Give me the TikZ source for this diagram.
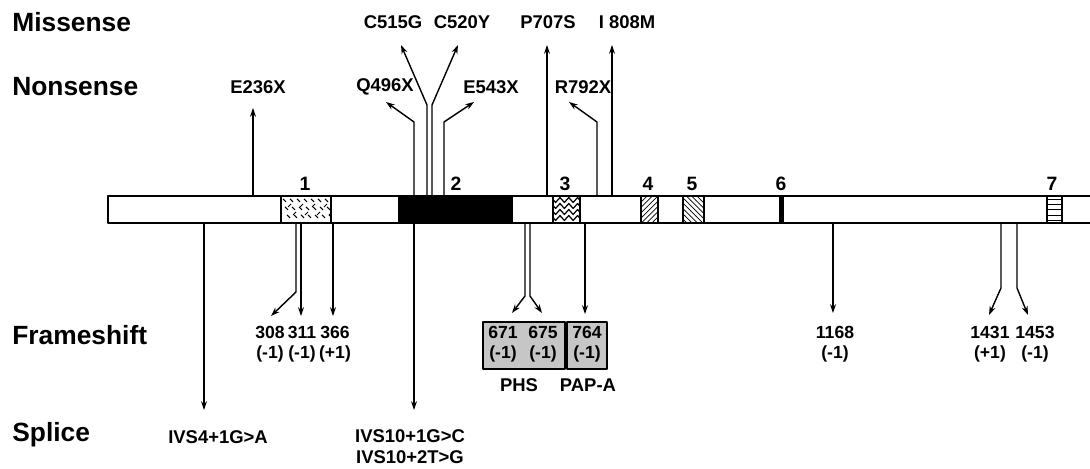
\documentclass[tikz,border=0pt]{standalone}
\usepackage{fontspec}
\setmainfont{Liberation Sans}
\usetikzlibrary{arrows.meta,patterns,decorations.pathmorphing}
\begin{document}
\begin{tikzpicture}[x=0.02cm, y=-0.02cm, line join=round,
	row/.style={font=\fontsize{15}{16}\selectfont\bfseries, anchor=west, inner sep=0pt},
	mut/.style={font=\fontsize{10.5}{11}\selectfont\bfseries, inner sep=0pt},
	fs/.style={font=\fontsize{10}{11.5}\selectfont\bfseries, inner sep=0pt, align=center},
	exnum/.style={font=\fontsize{11}{12}\selectfont\bfseries, inner sep=0pt},
	arr/.style={line width=0.8pt, -{Stealth[length=5pt,width=3.4pt]}},
	box/.style={draw, line width=1pt}]
	\useasboundingbox (0,0) rectangle (1090,469);
	
	% 1. Nhãn các hàng
	\node[row] (mis) at (12,22)  {Missense};
	\node[row] (non) at (12,87)  {Nonsense};
	\node[row] (frm) at (12,335) {Frameshift};
	\node[row] (spl) at (12,435) {Splice};
	
	% 2. Thanh gen và các exon
	\fill[black] (398,196) rectangle (513,223);
	\fill[black] (779,196) rectangle (784,223);
	\begin{scope}
		\clip (281,196) rectangle (331,223);
		\foreach \i in {0,...,7} \foreach \j in {0,1,2}
			\draw[line width=0.6pt] ({283+7*\i+2*\j},{199+8*\j}) -- ++(3,3);
		\foreach \i in {0,...,3} \foreach \j in {0,1}
			\draw[line width=0.6pt] ({288+12*\i+5*\j},{207+8*\j}) -- ++(3,-3);
	\end{scope}
	\begin{scope}
		\clip (553,196) rectangle (580,223);
		\foreach \yy in {200,206,...,220}
			\draw[line width=0.7pt, decorate, decoration={zigzag, segment length=5pt, amplitude=1.4pt}] (549,\yy) -- (584,\yy);
	\end{scope}
	\fill[pattern=north east lines] (641,196) rectangle (658,223);
	\fill[pattern=north west lines] (683,196) rectangle (704,223);
	\fill[pattern=horizontal lines] (1047,196) rectangle (1062,223);
	\draw[box] (281,196) -- (281,223) (331,196) -- (331,223) (553,196) -- (553,223) (580,196) -- (580,223)
		(641,196) -- (641,223) (658,196) -- (658,223) (683,196) -- (683,223) (704,196) -- (704,223)
		(1047,196) -- (1047,223) (1062,196) -- (1062,223);
	\draw[box] (1095,196) -- (108,196) -- (108,223) -- (1095,223);
	\foreach \n/\x in {1/305, 2/456, 3/565, 4/648, 5/692, 6/781, 7/1052}
		\node[exnum] (ex\n) at (\x,184) {\n};
	
	% 3. Điểm gốc trên thanh, điểm gãy và đầu mũi tên
	\foreach \p/\x/\k/\tx/\ty in {e236/253/150/253/108, q496/414/122/386/102, c515/427/105/401/45,
		c520/432/105/458/45, e543/444/122/474/102, p707/547/120/547/45, r792/597/122/569/102, i808/612/120/612/45} {
		\coordinate (b\p) at (\x,196);
		\coordinate (k\p) at (\x,\k);
		\coordinate (t\p) at (\tx,\ty);
	}
	\foreach \p/\x/\k/\tx/\ty in {ivs4/204/300/204/410, f308/296/292/271/316, f311/301/270/301/316,
		f366/333/270/333/316, ivs10/414/300/414/410, f671/525/296/512/313, f675/530/296/542/313,
		f764/585/270/585/314, f1168/833/270/833/313, f1431/1001/288/989/315, f1453/1017/288/1028/315} {
		\coordinate (b\p) at (\x,223);
		\coordinate (k\p) at (\x,\k);
		\coordinate (t\p) at (\tx,\ty);
	}
	
	% 4. Mũi tên
	\foreach \p in {e236, q496, c515, c520, e543, p707, r792, i808,
		ivs4, f308, f311, f366, ivs10, f671, f675, f764, f1168, f1431, f1453}
		\draw[arr] (b\p) -- (k\p) -- (t\p);
	
	% 5. Nhãn đột biến
	\node[mut] (C515G) at (393,22) {C515G};
	\node[mut] (C520Y) at (462,22) {C520Y};
	\node[mut] (P707S) at (548,22) {P707S};
	\node[mut] (I808M) at (627,22) {I 808M};
	\node[mut] (E236X) at (258,87) {E236X};
	\node[mut] (Q496X) at (385,87) {Q496X};
	\node[mut] (E543X) at (491,87) {E543X};
	\node[mut] (R792X) at (583,87) {R792X};
	
	\fill[gray!45] (483,322) rectangle (607,369);
	\draw[box] (483,322) rectangle (565,369) (567,322) rectangle (607,369);
	\foreach \p/\x/\v in {308/270/-1, 311/302/-1, 366/335/+1, 671/503/-1, 675/543/-1, 764/587/-1,
		1168/835/-1, 1431/990/+1, 1453/1035/-1}
		\node[fs] (n\p) at (\x,344) {\p\\(\v)};
	\node[mut] (PHS) at (519,385) {PHS};
	\node[mut] (PAPA) at (588,385) {PAP-A};
	\node[mut] (IVS4) at (218,437) {IVS4+1G>A};
	\node[mut, align=center, font=\fontsize{10.5}{12}\selectfont\bfseries] (IVS10) at (410,447) {IVS10+1G>C\\IVS10+2T>G};
\end{tikzpicture}
\end{document}
